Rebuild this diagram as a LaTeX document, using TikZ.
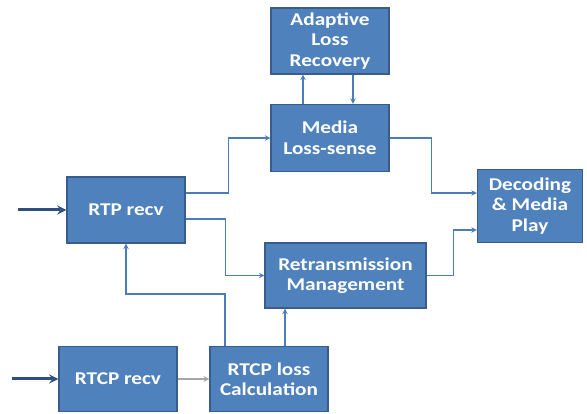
\documentclass[tikz,border=0pt]{standalone}
\usepackage{fontspec}
\setmainfont{Carlito}[FakeStretch=1.18]
\usetikzlibrary{arrows}

\definecolor{boxblue}{HTML}{4F81BD}
\definecolor{boxedge}{HTML}{385D8A}
\definecolor{linkblue}{HTML}{4A7EBB}
\definecolor{inblue}{HTML}{2F4F80}

\begin{document}
\begin{tikzpicture}[x=1pt,y=-1pt]
\tikzset{>=stealth}
\tikzset{blk/.style={draw=boxedge, line width=1.3pt, fill=boxblue, text=white,
  font=\fontsize{18}{20.5}\selectfont\bfseries, align=center, inner sep=0pt}}
\tikzset{link/.style={linkblue, line width=1.4pt, ->}}
\useasboundingbox (0,0) rectangle (587,414);
\node[blk, minimum width=118pt, minimum height=66pt] (adapt) at (330,41) {Adaptive\\Loss\\Recovery};
\node[blk, minimum width=118pt, minimum height=67pt] (media) at (330,138) {Media\\Loss-sense};
\node[blk, minimum width=118pt, minimum height=66pt] (rtp) at (126,210) {RTP recv};
\node[blk, minimum width=161pt, minimum height=65pt] (retx) at (345.5,275.5) {Retransmission\\Management};
\node[blk, minimum width=105pt, minimum height=73pt] (dec) at (530,206) {Decoding\\\& Media\\Play};
\node[blk, minimum width=118pt, minimum height=65pt] (rtcp) at (118,379) {RTCP recv};
\node[blk, minimum width=118pt, minimum height=65pt] (loss) at (269,379) {RTCP loss\\Calculation};
\coordinate (in1) at (18,210);
\coordinate (in2) at (12,379);
% inputs
\draw[inblue, line width=3pt, ->] (in1) -- (rtp.west);
\draw[inblue, line width=3pt, ->] (in2) -- (rtcp.west);
\draw[gray!70, line width=1.6pt, ->] (rtcp.east) -- (loss.west);
% rtp to the two branches
\draw[link] ([yshift=17pt]rtp.east) -- ++(43,0) |- (media.west);
\draw[link] ([yshift=-9pt]rtp.east) -- ++(40,0) |- (retx.west);
% into decoding
\draw[link] (media.east) -- ++(42,0) |- ([yshift=13pt]dec.west);
\draw[link] (retx.east) -- ++(27,0) |- ([yshift=-24pt]dec.west);
% media and recovery
\draw[link] ([xshift=-27pt]media.north) -- ([xshift=-27pt]adapt.south);
\draw[link] ([xshift=23pt]adapt.south) -- ([xshift=23pt]media.north);
% feedback from rtcp loss
\draw[link] ([xshift=-44pt]loss.north) -- ++(0,-52) -| (rtp.south);
\draw[link] ([xshift=16pt]loss.north) -- ([xshift=16pt]loss.north |- retx.south);
\end{tikzpicture}
\end{document}
